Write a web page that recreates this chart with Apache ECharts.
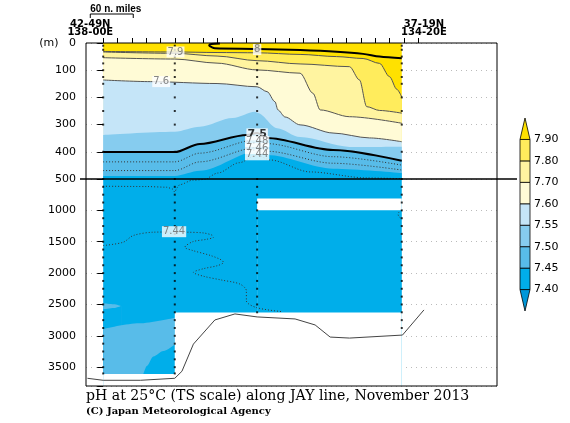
<!DOCTYPE html>
<html>
<head>
<meta charset="utf-8">
<script src="https://cdn.jsdelivr.net/npm/echarts@6/dist/echarts.min.js"></script>
<style>
  html, body { margin: 0; padding: 0; background: #fff; }
  #chart { width: 570px; height: 423px; }
</style>
</head>
<body>
<div id="chart"></div>
<script>
// x: distance along JAY line (n. miles from first station), y: depth (m)
const stations = [0, 100, 215, 417]
const stationBottom = [3610, 3610, 2630, 2950]
const sampleDepthsTop = [10, 25, 50, 75, 100, 125, 150, 200, 250, 300, 400, 500]
const sampleDepthsDeep = [625, 750, 875, 1000, 1125, 1250, 1375, 1500, 1625, 1750, 1875, 2000,
  2125, 2250, 2375, 2500, 2625, 2750, 2875, 3000, 3125, 3250, 3375, 3500, 3600]
const topTicks = [0, 20, 40, 60, 80, 100, 120, 140, 160, 180, 200, 220, 240, 260, 280, 300,
  320, 340, 360, 380, 400, 420, 440]
const endLabelPos = [-18, 448]
const endLabels = ['42-49N\n138-00E', '37-19N\n134-20E']
const scaleBar = [-18, 42]
const xRange = [-24, 550]
const depthTop = [0, 500]
const depthDeep = [500, 3800]

// isolines 0-500 m
const ph80 = [[163, 2], [151, 4], [148, 9], [152, 16], [156, 19.5], [215, 22], [275, 26], [326, 32], [363, 40], [386, 50], [417, 56]]
const ph79 = [[0, 31], [100, 33], [159, 35], [215, 36], [275, 42], [326, 50], [363, 57], [386, 75], [400, 124], [410, 170], [417, 199]]
const ph78 = [[0, 33], [100, 38], [159, 48], [215, 65], [275, 77], [344, 87], [358, 136], [368, 234], [386, 248], [417, 258]]
const ph77 = [[0, 54], [100, 59], [159, 74], [215, 99], [275, 111], [293, 185], [303, 246], [344, 271], [417, 295]]
const ph76 = [[0, 136], [66, 142], [159, 149], [215, 161], [229, 179], [240, 216], [244, 246], [254, 272], [275, 301], [321, 331], [372, 349], [417, 363]]
const ph755 = [[0, 338], [100, 326], [135, 308], [181, 276], [212, 253], [216, 257], [243, 313], [275, 346], [344, 382], [417, 381]]
const ph75 = [[0, 401], [100, 401], [135, 371], [201, 338], [215, 331], [229, 349], [321, 393], [417, 433]]
const ph748 = [[0, 437], [100, 437], [135, 405], [215, 355], [229, 370], [321, 418], [417, 449]]
const ph746 = [[0, 469], [100, 469], [135, 437], [215, 384], [229, 398], [321, 442], [417, 467]]
const ph745 = [[0, 489], [100, 489], [135, 470], [215, 398], [229, 412], [321, 462], [417, 478]]
const ph744Top = [[145, 500], [160, 478], [190, 440], [215, 412], [233, 430], [289, 474], [368, 496], [417, 499]]

// isolines 500-3800 m
const ph744Upper = [[0, 615], [60, 620], [89, 631], [97, 660], [100, 707], [103, 640], [107, 590], [125, 519], [145, 500]]
const ph744Deep = [[0, 1561], [28, 1508], [42, 1401], [70, 1348], [95, 1345], [117, 1348], [140, 1360], [152, 1395],
  [154, 1428], [145, 1460], [125, 1500], [114, 1588], [125, 1640], [150, 1720], [165, 1790], [168, 1829],
  [160, 1880], [140, 1930], [126, 1989], [140, 2050], [165, 2110], [191, 2175], [200, 2282], [200, 2443],
  [214, 2550], [249, 2614]]
const ph744Arc = [[417, 1000], [413, 1030], [412, 1070], [414, 1110], [417, 1135]]
const lensTop = [[0, 2480], [15, 2495], [25, 2523]]
const lensBottom = [[0, 2576], [15, 2555], [25, 2523]]
const swTop = [[0, 2891], [50, 2800], [100, 2710]]
const swDark = [[56, 3613], [61, 3480], [70, 3330], [84, 3244], [100, 3140]]
const gapTop = [[215, 810], [417, 810]]
const gapBottom = [[215, 1000], [417, 1000]]
const dataBottom = [[0, 3610], [100, 3610], [100, 2630], [417, 2630]]
const bathymetry = [[-22, 3677], [0, 3709], [52, 3709], [100, 3677], [110, 3565], [126, 3132], [156, 2747],
  [184, 2651], [215, 2699], [268, 2731], [296, 2827], [317, 3020], [344, 3036], [418, 2988], [448, 2587]]

// contour labels [x, depth, text]
const labelsTop = [[101, 33, '7.9'], [215, 24, '8'], [81, 142, '7.6'], [215, 336, '7.5'],
  [215, 362, '7.48'], [215, 388, '7.46'], [215, 411, '7.44']]
const labelsDeep = [[99, 1340, '7.44']]

// colour classes (below 7.40 ... above 7.90)
const cbLabels = ['7.40', '7.45', '7.50', '7.55', '7.60', '7.70', '7.80', '7.90']
const cbColors = ['#0097d8', '#00aeea', '#58bce9', '#86ccef', '#c5e5f8', '#fffbd6', '#fff4a0', '#ffec5c', '#ffe100']
const [cLt740, c740, c745, c750, c755, c760, c770, c780, c790] = cbColors

const font = 'DejaVu Sans'
let zc = 1

// filled band: everything below the isoline gets the colour (painted top-down)
function band (grid, data, color, smooth) {
  return {
    type: 'line',
    xAxisIndex: grid,
    yAxisIndex: grid,
    data,
    smooth: smooth ? 0.3 : false,
    smoothMonotone: 'x',
    showSymbol: false,
    silent: true,
    z: zc++,
    lineStyle: { width: 0, opacity: 0 },
    areaStyle: { color, opacity: 1, origin: 'end' },
  }
}

function contour (grid, data, width, color, type, monotone) {
  return {
    type: 'line',
    xAxisIndex: grid,
    yAxisIndex: grid,
    data,
    smooth: 0.3,
    smoothMonotone: monotone ? 'x' : undefined,
    showSymbol: false,
    silent: true,
    z: 30,
    lineStyle: { width, color, type },
  }
}

function stationDots (depths) {
  const out = []
  stations.forEach((s, i) => {
    depths.forEach((d) => {
      if (d <= stationBottom[i]) out.push([s, d])
    })
  })
  return out
}

function labelSeries (grid, items) {
  return {
    type: 'scatter',
    xAxisIndex: grid,
    yAxisIndex: grid,
    symbolSize: 1,
    itemStyle: { color: 'rgba(0,0,0,0)' },
    silent: true,
    z: 45,
    data: items.map((it) => ({
      value: it,
      label: it[2] === '7.5' ? { color: '#000', fontWeight: 'bold', fontSize: 11 } : {},
    })),
    label: {
      show: true,
      position: 'inside',
      formatter: (p) => p.value[2],
      fontFamily: font,
      fontSize: 10,
      color: '#666',
      backgroundColor: '#fff',
      padding: [1, 1, 0, 1],
    },
  }
}

const splitLine = { show: true, lineStyle: { color: '#bbb', type: [1, 4], width: 1 } }
const tick = { show: true, length: 6, lineStyle: { color: '#000' } }
const yLabel = { margin: 10, fontFamily: font, fontSize: 11, color: '#000' }

const series = [
  band(0, [[0, 0], [417, 0]], c790, false),
  band(0, ph79, c780, true),
  band(0, ph78, c770, true),
  band(0, ph77, c760, true),
  band(0, ph76, c755, true),
  band(0, ph755, c750, true),
  band(0, ph75, c745, true),
  band(0, ph745, c740, true),
  band(1, [[0, 500], [417, 500]], c740, false),
  band(1, gapTop, '#fff', false),
  band(1, gapBottom, c740, false),
  band(1, lensTop, c745, true),
  band(1, lensBottom, c740, true),
  band(1, swTop, c745, true),
  band(1, swDark, c740, true),
  band(1, dataBottom, '#fff', false),
  contour(0, ph80, 2, '#000', 'solid', false),
  contour(0, ph79, 1, '#555', 'solid', true),
  contour(0, ph78, 1, '#555', 'solid', true),
  contour(0, ph77, 1, '#555', 'solid', true),
  contour(0, ph76, 1, '#555', 'solid', true),
  contour(0, ph75, 2, '#000', 'solid', true),
  contour(0, ph748, 1, '#333', [1, 2], true),
  contour(0, ph746, 1, '#333', [1, 2], true),
  contour(0, ph744Top, 1, '#333', [1, 2], true),
  contour(1, ph744Upper, 1, '#333', [1, 2], true),
  contour(1, ph744Deep, 1, '#333', [1, 2], false),
  contour(1, ph744Arc, 1, '#333', [1, 2], false),
  {
    type: 'line', xAxisIndex: 1, yAxisIndex: 1, data: bathymetry, showSymbol: false, silent: true, z: 30,
    lineStyle: { width: 1, color: '#444' },
  },
  {
    type: 'scatter', xAxisIndex: 0, yAxisIndex: 0, data: stationDots(sampleDepthsTop),
    symbol: 'rect', symbolSize: 2, itemStyle: { color: '#000' }, silent: true, z: 40,
  },
  {
    type: 'scatter', xAxisIndex: 1, yAxisIndex: 1, data: stationDots(sampleDepthsDeep),
    symbol: 'rect', symbolSize: 2, itemStyle: { color: '#000' }, silent: true, z: 40,
  },
  labelSeries(0, labelsTop),
  labelSeries(1, labelsDeep),
  {
    // colour bar
    type: 'custom',
    xAxisIndex: 2,
    yAxisIndex: 2,
    silent: true,
    data: cbColors.map((c, i) => [i]),
    renderItem (params, api) {
      const i = api.value(0)
      const lo = api.coord([0, i - 1])
      const hi = api.coord([1, i])
      const l = lo[0], r = hi[0], b = lo[1], t = hi[1], m = (l + r) / 2
      let points
      if (i === 0) points = [[l, t], [r, t], [m, b]]
      else if (i === cbColors.length - 1) points = [[l, b], [r, b], [m, t]]
      else points = [[l, t], [r, t], [r, b], [l, b]]
      return {
        type: 'polygon',
        shape: { points },
        style: { fill: cbColors[i], stroke: '#000', lineWidth: 0.8 },
      }
    },
  },
]

const chart = echarts.init(document.getElementById('chart'))
chart.setOption({
  animation: false,
  backgroundColor: '#fff',
  grid: [
    { left: 86, top: 43, width: 411, height: 136 },
    { left: 86, top: 179, width: 411, height: 207 },
    { left: 520, top: 118, width: 10, height: 193 },
  ],
  xAxis: [
    {
      gridIndex: 0,
      type: 'value',
      position: 'top',
      min: xRange[0],
      max: xRange[1],
      axisLine: { show: false },
      splitLine: { show: false },
      axisTick: { show: true, customValues: topTicks, length: 5, lineStyle: { color: '#000' } },
      axisLabel: {
        customValues: endLabelPos,
        formatter: (v) => (v < 0 ? endLabels[0] : endLabels[1]),
        margin: 7,
        fontFamily: font,
        fontWeight: 'bold',
        fontSize: 10,
        lineHeight: 8,
        color: '#000',
      },
    },
    { gridIndex: 1, type: 'value', min: xRange[0], max: xRange[1], show: false },
    { gridIndex: 2, type: 'value', min: 0, max: 1, show: false },
  ],
  yAxis: [
    {
      gridIndex: 0,
      type: 'value',
      inverse: true,
      min: depthTop[0],
      max: depthTop[1],
      interval: 100,
      axisLine: { show: false },
      axisTick: tick,
      splitLine,
      axisLabel: { ...yLabel, formatter: (v) => (v === 0 ? '(m)   0' : String(v)) },
    },
    {
      gridIndex: 1,
      type: 'value',
      inverse: true,
      min: depthDeep[0],
      max: depthDeep[1],
      interval: 500,
      axisLine: { show: false },
      axisTick: tick,
      splitLine,
      axisLabel: { ...yLabel, formatter: (v) => (v === 500 || v === 3800 ? '' : String(v)) },
    },
    {
      gridIndex: 2,
      type: 'value',
      position: 'right',
      min: -1,
      max: 8,
      interval: 1,
      axisLine: { show: false },
      axisTick: { show: false },
      splitLine: { show: false },
      axisLabel: {
        margin: 4,
        fontFamily: font,
        fontSize: 11,
        color: '#000',
        formatter: (v) => cbLabels[v] || '',
      },
    },
  ],
  series,
})

// frame, 500 m divider, scale bar and captions
const tl = chart.convertToPixel({ xAxisIndex: 0, yAxisIndex: 0 }, [xRange[0], depthTop[0]])
const br = chart.convertToPixel({ xAxisIndex: 1, yAxisIndex: 1 }, [xRange[1], depthDeep[1]])
const y500 = chart.convertToPixel({ yAxisIndex: 0 }, 500)
const sx0 = chart.convertToPixel({ xAxisIndex: 0 }, scaleBar[0])
const sx1 = chart.convertToPixel({ xAxisIndex: 0 }, scaleBar[1])
chart.setOption({
  graphic: [
    {
      type: 'rect', z: 100,
      shape: { x: tl[0], y: tl[1], width: br[0] - tl[0], height: br[1] - tl[1] },
      style: { fill: null, stroke: '#000', lineWidth: 1 },
    },
    {
      type: 'line', z: 100,
      shape: { x1: tl[0] - 6, y1: y500, x2: br[0] + 20, y2: y500 },
      style: { stroke: '#000', lineWidth: 1.3 },
    },
    {
      type: 'text', left: sx0, top: 4,
      style: { text: '60 n. miles', font: 'bold 10px "Liberation Sans"', fill: '#000' },
    },
    {
      type: 'polyline',
      shape: { points: [[sx0, 18], [sx0, 14], [sx1, 14], [sx1, 18]] },
      style: { stroke: '#000', lineWidth: 1, fill: null },
    },
    {
      type: 'text', left: 86, top: 389,
      style: { text: 'pH at 25°C (TS scale) along JAY line, November 2013', font: '14.1px "DejaVu Serif"', fill: '#000' },
    },
    {
      type: 'text', left: 86, top: 406,
      style: { text: '(C) Japan Meteorological Agency', font: 'bold 10px "DejaVu Serif"', fill: '#000' },
    },
  ],
})
</script>
</body>
</html>
